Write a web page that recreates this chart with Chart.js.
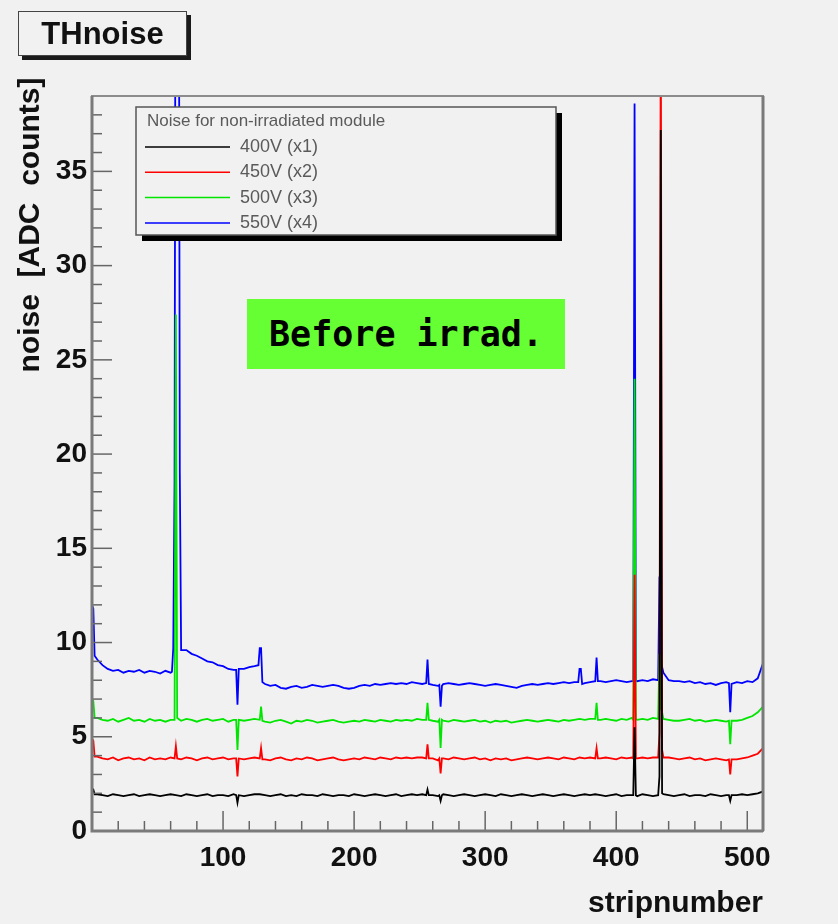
<!DOCTYPE html>
<html>
<head>
<meta charset="utf-8">
<title>THnoise</title>
<script src="https://cdn.jsdelivr.net/npm/chart.js@4.4.1/dist/chart.umd.min.js"></script>
<style>
  html, body { margin: 0; padding: 0; background: #f1f1f1; }
  #wrap { position: relative; width: 838px; height: 924px; overflow: hidden; }
  #plot { position: absolute; left: 0; top: 0; }
  .hist-title {
    position: absolute; left: 18px; top: 11px; width: 167px; height: 43px;
    border: 1.5px solid #444; box-shadow: 4px 4px 0 #1a1a1a; background: #f1f1f1;
    font: bold 31px "Liberation Sans", Arial, sans-serif; line-height: 43px;
    text-align: center; color: #111;
  }
  .note {
    position: absolute; left: 247px; top: 299px; width: 318px; height: 70px;
    background: #66ff33; color: #000; text-align: center;
    font: bold 35px "DejaVu Sans Mono", monospace; line-height: 70px;
  }
</style>
</head>
<body>
<div id="wrap">
  <canvas id="plot" width="838" height="924"></canvas>
  <div class="hist-title">THnoise</div>
  <div class="note">Before irrad.</div>
</div>
<script>
// x grid: one sample every 4 strips (0..512)
const strips = Array.from({ length: 129 }, (_, i) => i * 4);

const xTicks = [100, 200, 300, 400, 500];
const yTicks = [0, 5, 10, 15, 20, 25, 30, 35];

const xTitle = "stripnumber";
const yTitle = "noise  [ADC  counts]";
const legendHeader = "Noise for non-irradiated module";
const labels = ["400V (x1)", "450V (x2)", "500V (x3)", "550V (x4)"];
const colors = ["#000000", "#ff0000", "#00e600", "#0000ff"];

// baseline noise, read every 4 strips
const base400 = [
  2.2, 1.95, 1.9, 1.85, 1.95, 1.9, 1.85, 1.9, 1.95, 1.85, 1.9, 1.95, 1.9, 1.85, 1.9, 1.95,
  1.9, 1.85, 1.95, 1.9, 1.85, 1.9, 1.95, 1.85, 1.9, 1.9, 1.85, 1.95, 1.9, 1.85, 1.9, 1.95,
  1.95, 1.9, 1.85, 1.9, 1.95, 1.85, 1.9, 1.85, 1.95, 1.9, 1.9, 1.85, 1.95, 1.9, 1.85, 1.9,
  1.9, 1.85, 1.95, 1.9, 1.85, 1.9, 1.95, 1.9, 1.85, 1.9, 1.95, 1.85, 1.9, 1.95, 1.9, 1.95,
  2.0, 1.9, 1.85, 1.95, 1.9, 1.85, 1.9, 1.95, 1.9, 1.85, 1.9, 1.95, 1.9, 1.85, 1.95, 1.9,
  1.85, 1.9, 1.95, 1.9, 1.85, 1.9, 1.95, 1.9, 1.85, 1.9, 1.95, 1.9, 1.85, 1.9, 1.95, 1.9,
  1.95, 1.9, 1.85, 1.9, 1.95, 1.85, 1.9, 1.9, 1.85, 1.95, 1.9, 1.85, 1.9, 1.95, 1.9, 1.85,
  1.9, 1.95, 1.85, 1.9, 1.9, 1.85, 1.95, 1.9, 1.85, 1.9, 1.8, 1.9, 1.95, 1.9, 1.95, 2.0,
  2.1
];
const base450 = [
  4.9, 3.95, 3.85, 3.8, 3.9, 3.75, 3.85, 3.9, 3.8, 3.85, 3.75, 3.9, 3.8, 3.85, 3.8, 3.9,
  3.85, 3.8, 3.9, 3.85, 3.75, 3.85, 3.9, 3.8, 3.85, 3.9, 3.8, 3.85, 3.9, 3.8, 3.85, 3.9,
  3.85, 3.8, 3.75, 3.85, 3.9, 3.8, 3.75, 3.85, 3.8, 3.9, 3.85, 3.75, 3.8, 3.85, 3.9, 3.8,
  3.75, 3.8, 3.85, 3.8, 3.9, 3.85, 3.8, 3.9, 3.85, 3.8, 3.9, 3.85, 3.9, 3.85, 3.9, 3.9,
  3.9, 3.85, 3.75, 3.85, 3.8, 3.9, 3.85, 3.8, 3.85, 3.9, 3.8, 3.85, 3.75, 3.85, 3.8, 3.85,
  3.75, 3.8, 3.85, 3.9, 3.85, 3.8, 3.85, 3.9, 3.85, 3.8, 3.9, 3.85, 3.8, 3.9, 3.85, 3.9,
  3.95, 3.85, 3.9, 3.85, 3.8, 3.9, 3.85, 3.9, 3.85, 3.9, 3.85, 3.9, 3.95, 3.85, 3.9, 3.85,
  3.8, 3.85, 3.9, 3.8, 3.85, 3.75, 3.8, 3.85, 3.8, 3.75, 3.7, 3.8, 3.85, 3.9, 4.0, 4.1,
  4.4
];
const base500 = [
  7.0, 6.0, 5.9, 5.85, 5.95, 5.8, 5.9, 6.0, 5.85, 5.9, 5.8, 5.95, 5.85, 5.9, 5.8, 5.9,
  5.9, 5.85, 5.95, 5.9, 5.8, 5.9, 5.95, 5.85, 5.9, 5.95, 5.8, 5.9, 5.95, 5.85, 5.9, 5.95,
  5.9, 5.8, 5.75, 5.85, 5.9, 5.8, 5.7, 5.85, 5.8, 5.9, 5.85, 5.75, 5.8, 5.85, 5.9, 5.8,
  5.75, 5.8, 5.85, 5.8, 5.9, 5.85, 5.8, 5.9, 5.85, 5.8, 5.9, 5.85, 5.9, 5.85, 5.95, 5.9,
  5.9, 5.85, 5.8, 5.85, 5.8, 5.9, 5.85, 5.8, 5.85, 5.9, 5.8, 5.85, 5.75, 5.85, 5.8, 5.85,
  5.75, 5.8, 5.85, 5.9, 5.85, 5.8, 5.85, 5.9, 5.85, 5.8, 5.9, 5.85, 5.9, 5.95, 5.9, 5.95,
  6.0, 5.9, 5.95, 5.9, 5.85, 5.95, 5.9, 6.0, 5.9, 5.95, 5.9, 6.0, 6.05, 5.95, 5.9, 5.85,
  5.85, 5.9, 5.95, 5.85, 5.9, 5.8, 5.85, 5.9, 5.85, 5.8, 5.75, 5.85, 5.9, 6.0, 6.1, 6.3,
  6.6
];
const base550 = [
  12.0, 9.1, 8.8, 8.6, 8.5, 8.55, 8.4, 8.5, 8.45, 8.55, 8.4, 8.5, 8.45, 8.35, 8.5, 8.4,
  9.7, 9.6, 9.6, 9.4, 9.3, 9.15, 9.0, 8.95, 8.8, 8.75, 8.6, 8.55, 8.5, 8.6, 8.7, 8.75,
  8.8, 7.8, 7.7, 7.75, 7.6, 7.55, 7.65, 7.7, 7.6, 7.65, 7.75, 7.7, 7.65, 7.7, 7.75, 7.7,
  7.6, 7.55, 7.6, 7.7, 7.75, 7.7, 7.8, 7.75, 7.8, 7.85, 7.8, 7.85, 7.8, 7.9, 7.85, 7.8,
  7.85, 7.75, 7.7, 7.8, 7.85, 7.8, 7.75, 7.8, 7.85, 7.8, 7.75, 7.7, 7.75, 7.8, 7.75, 7.7,
  7.65, 7.6, 7.7, 7.75, 7.8, 7.75, 7.8, 7.85, 7.8, 7.85, 7.9, 7.85, 7.9, 8.0, 7.85, 7.9,
  7.95, 7.95, 7.9, 7.95, 8.0, 7.95, 7.9, 7.95, 7.95, 8.0, 7.95, 8.05, 8.1, 8.1, 8.0, 7.95,
  7.95, 7.9, 7.95, 7.85, 7.9, 7.8, 7.85, 7.75, 7.85, 7.9, 7.8, 7.9, 7.85, 7.95, 7.9, 8.1,
  8.9
];

// single-strip features (spikes / dips), [strip, noise]
const spikes400 = [
  [[0, 2.25], [1, 2.2], [2, 1.95]],
  [[110, 1.9], [111, 1.5], [112, 1.9]],
  [[255, 1.9], [256, 2.2], [257, 1.9]],
  [[265, 1.9], [266, 1.6], [267, 1.9]],
  [[413, 1.9], [414, 5.5], [415, 1.9]],
  [[432, 1.9], [433, 2.9], [434, 37.2], [435, 2.0]],
  [[486, 1.9], [487, 1.6], [488, 1.9]]
];
const spikes450 = [
  [[0, 4.9], [1, 4.8], [2, 3.95]],
  [[63, 3.85], [64, 4.5], [65, 3.85]],
  [[110, 3.85], [111, 2.9], [112, 3.85]],
  [[128, 3.85], [129, 4.4], [130, 3.8]],
  [[255, 3.85], [256, 4.6], [257, 3.85]],
  [[265, 3.85], [266, 3.05], [267, 3.85]],
  [[384, 3.85], [385, 4.4], [386, 3.85]],
  [[413, 3.85], [414, 13.6], [415, 3.85]],
  [[432, 3.9], [433, 5.2], [434, 45], [435, 4.3], [436, 3.9]],
  [[486, 3.8], [487, 3.0], [488, 3.8]]
];
const spikes500 = [
  [[0, 7.0], [1, 6.9], [2, 6.0]],
  [[63, 5.9], [64, 27.4], [65, 6.0]],
  [[110, 5.9], [111, 4.3], [112, 5.9]],
  [[128, 5.9], [129, 6.6], [130, 5.85]],
  [[255, 5.9], [256, 6.8], [257, 5.9]],
  [[265, 5.9], [266, 4.4], [267, 5.9]],
  [[384, 5.95], [385, 6.8], [386, 5.9]],
  [[413, 5.9], [414, 24.0], [415, 5.95]],
  [[432, 5.95], [433, 9.4], [434, 6.5], [435, 6.3], [436, 5.95]],
  [[486, 5.85], [487, 4.6], [488, 5.85]]
];
const spikes550 = [
  [[0, 12.0], [1, 11.8], [2, 9.3]],
  [[61, 8.45], [62, 9.7], [63, 18.5], [64, 60], [66, 60], [67, 19], [68, 9.6]],
  [[110, 8.55], [111, 6.7], [112, 8.6]],
  [[127, 8.8], [128, 9.7], [129, 9.7], [130, 7.9]],
  [[255, 7.85], [256, 9.1], [257, 7.8]],
  [[265, 7.75], [266, 6.6], [267, 7.7]],
  [[371, 7.9], [372, 8.6], [373, 8.6], [374, 7.8]],
  [[384, 7.95], [385, 9.2], [386, 7.95]],
  [[413, 7.95], [414, 38.6], [415, 8.0]],
  [[432, 8.0], [433, 13.5], [434, 8.3], [435, 8.7], [436, 8.4]],
  [[486, 7.85], [487, 6.3], [488, 7.8]]
];

function buildSeries(base, spikes) {
  const pts = [];
  strips.forEach((x, i) => {
    const covered = spikes.some((g) => x >= g[0][0] && x <= g[g.length - 1][0]);
    if (!covered) pts.push({ x, y: base[i] });
  });
  spikes.forEach((g) => g.forEach(([x, y]) => pts.push({ x, y })));
  return pts.sort((a, b) => a.x - b.x);
}

const FONT = "'Liberation Sans', Arial, Helvetica, sans-serif";
const BG = "#f1f1f1";

// ROOT style frame: ticks pointing into the pad, grey border
const rootFrame = {
  id: "rootFrame",
  afterDatasetsDraw(chart) {
    const { ctx, chartArea: a, scales } = chart;
    const x = scales.x, y = scales.y;
    ctx.save();
    ctx.strokeStyle = "#666666";
    ctx.lineWidth = 1.5;
    for (let v = 1; v <= 39; v++) {
      const py = y.getPixelForValue(v);
      const len = v % 5 === 0 ? 20 : 10;
      ctx.beginPath();
      ctx.moveTo(a.left, py);
      ctx.lineTo(a.left + len, py);
      ctx.stroke();
    }
    for (let v = 20; v < 512; v += 20) {
      const px = x.getPixelForValue(v);
      const len = v % 100 === 0 ? 20 : 10;
      ctx.beginPath();
      ctx.moveTo(px, a.bottom);
      ctx.lineTo(px, a.bottom - len);
      ctx.stroke();
    }
    ctx.strokeStyle = "#8c8c8c";
    ctx.lineWidth = 2;
    ctx.strokeRect(a.left, a.top, a.right - a.left, a.bottom - a.top);
    ctx.strokeStyle = "#7a7a7a";
    ctx.lineWidth = 3;
    ctx.beginPath();
    ctx.moveTo(a.left, a.top);
    ctx.lineTo(a.left, a.bottom);
    ctx.lineTo(a.right, a.bottom);
    ctx.moveTo(a.right, a.top);
    ctx.lineTo(a.right, a.bottom);
    ctx.stroke();
    ctx.restore();
  }
};

// y title sits high on the axis, as in the ROOT canvas
const yAxisTitle = {
  id: "yAxisTitle",
  afterDraw(chart) {
    const ctx = chart.ctx;
    ctx.save();
    ctx.translate(31, 225);
    ctx.rotate(-Math.PI / 2);
    ctx.textAlign = "center";
    ctx.textBaseline = "middle";
    ctx.fillStyle = "#111";
    ctx.font = "bold 30px " + FONT;
    ctx.fillText(yTitle, 0, 0);
    ctx.restore();
  }
};

// legend box with header and long line samples, drawn over the pad
const noiseLegend = {
  id: "noiseLegend",
  afterDraw(chart) {
    const ctx = chart.ctx;
    const bx = 136, by = 107, bw = 420, bh = 128;
    ctx.save();
    ctx.fillStyle = "#000";
    ctx.fillRect(bx + 6, by + 6, bw, bh);
    ctx.fillStyle = BG;
    ctx.fillRect(bx, by, bw, bh);
    ctx.strokeStyle = "#555";
    ctx.lineWidth = 1.5;
    ctx.strokeRect(bx, by, bw, bh);
    ctx.textBaseline = "middle";
    ctx.fillStyle = "#5a5a5a";
    ctx.font = "17px " + FONT;
    ctx.fillText(legendHeader, 147, 121);
    ctx.font = "18px " + FONT;
    chart.data.datasets.forEach((ds, i) => {
      const ly = 147 + i * 25.3;
      ctx.strokeStyle = ds.borderColor;
      ctx.lineWidth = 1.5;
      ctx.beginPath();
      ctx.moveTo(145, ly);
      ctx.lineTo(230, ly);
      ctx.stroke();
      ctx.fillStyle = "#5a5a5a";
      ctx.fillText(ds.label, 240, ly);
    });
    ctx.restore();
  }
};

const series = [
  buildSeries(base400, spikes400),
  buildSeries(base450, spikes450),
  buildSeries(base500, spikes500),
  buildSeries(base550, spikes550)
];

new Chart(document.getElementById("plot"), {
  type: "line",
  data: {
    datasets: series.map((data, i) => ({
      label: labels[i],
      data,
      borderColor: colors[i],
      borderWidth: 1.8,
      pointRadius: 0,
      tension: 0,
      fill: false
    }))
  },
  options: {
    responsive: false,
    animation: false,
    devicePixelRatio: 1,
    layout: { padding: { top: 96, right: 75, bottom: 0, left: 0 } },
    plugins: {
      legend: { display: false },
      tooltip: { enabled: false }
    },
    scales: {
      x: {
        type: "linear",
        min: 0,
        max: 512,
        grid: { display: false, drawTicks: false },
        border: { display: false },
        afterBuildTicks: (scale) => { scale.ticks = xTicks.map((v) => ({ value: v })); },
        afterFit: (scale) => { scale.height = 93; },
        ticks: {
          color: "#111",
          padding: 10,
          maxRotation: 0,
          font: { family: FONT, size: 28, weight: "bold" }
        },
        title: {
          display: true,
          text: xTitle,
          align: "end",
          color: "#111",
          padding: { top: 0, bottom: 2 },
          font: { family: FONT, size: 30, weight: "bold" }
        }
      },
      y: {
        min: 0,
        max: 39,
        grid: { display: false, drawTicks: false },
        border: { display: false },
        afterBuildTicks: (scale) => { scale.ticks = yTicks.map((v) => ({ value: v })); },
        afterFit: (scale) => { scale.width = 92; },
        ticks: {
          color: "#111",
          padding: 5,
          font: { family: FONT, size: 28, weight: "bold" }
        }
      }
    }
  },
  plugins: [rootFrame, yAxisTitle, noiseLegend]
});
</script>
</body>
</html>
